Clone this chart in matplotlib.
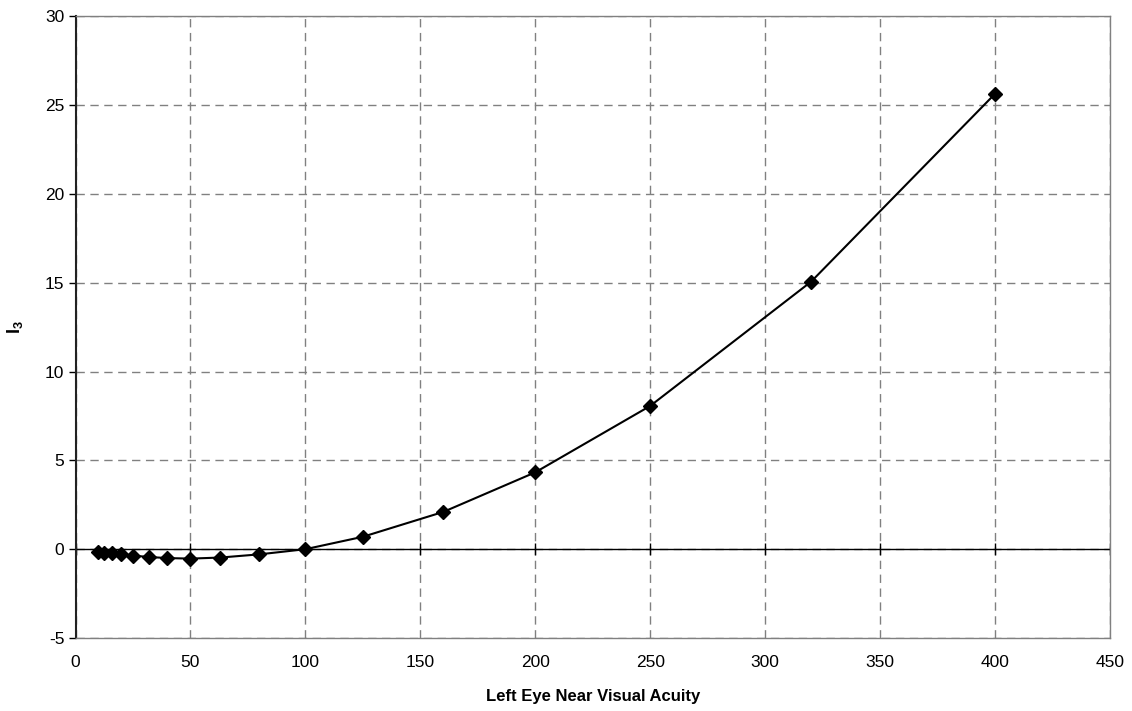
import matplotlib
matplotlib.use("Agg")
import matplotlib.pyplot as plt

# Left eye near visual acuity vs I3
acuity = [10, 12.5, 16, 20, 25, 32, 40, 50, 63, 80, 100, 125, 160, 200, 250, 320, 400]
i3 = [-0.17, -0.2, -0.24, -0.28, -0.36, -0.44, -0.5, -0.53, -0.47, -0.29, 0.0,
      0.7, 2.1, 4.33, 8.07, 15.07, 25.65]

x_ticks = list(range(0, 451, 50))
y_ticks = list(range(-5, 31, 5))

plt.rcParams['font.family'] = ['Liberation Sans', 'DejaVu Sans']
plt.rcParams['axes.unicode_minus'] = False
plt.rcParams['mathtext.fontset'] = 'custom'
plt.rcParams['mathtext.rm'] = 'Liberation Sans'
plt.rcParams['mathtext.bf'] = 'Liberation Sans:bold'

fig = plt.figure(figsize=(11.32, 7.11), dpi=100)
ax = fig.add_axes([0.0667, 0.1027, 0.9139, 0.8741])

ax.set_xlim(0, 450)
ax.set_ylim(-5, 30)
ax.set_xticks(x_ticks)
ax.set_yticks(y_ticks)

ax.grid(True, color='#808080', linestyle=(0, (6, 4)), linewidth=1)
ax.set_axisbelow(True)

# zero line with tick marks like an excel category axis
ax.axhline(0, color='black', linewidth=1, zorder=2)
ax.plot(x_ticks, [0] * len(x_ticks), linestyle='none', marker='|',
        markersize=9, color='black', zorder=2)

ax.plot(acuity, i3, color='black', linewidth=1.5, marker='D',
        markersize=7.5, zorder=3)

for side in ['top', 'right', 'bottom']:
    ax.spines[side].set_color('#808080')
    ax.spines[side].set_linewidth(1)
ax.spines['left'].set_color('#222222')
ax.spines['left'].set_linewidth(1.5)

ax.tick_params(axis='x', length=0, pad=12, labelsize=12.5)
ax.tick_params(axis='y', length=5, width=1, direction='out', labelsize=12.5, pad=3)

ax.set_xlabel('Left Eye Near Visual Acuity', fontsize=12, fontweight='bold', labelpad=14)
ax.set_ylabel(r'$\mathbf{I}_\mathbf{3}$', fontsize=13, labelpad=14)

fig.savefig('out.png', dpi=100)
